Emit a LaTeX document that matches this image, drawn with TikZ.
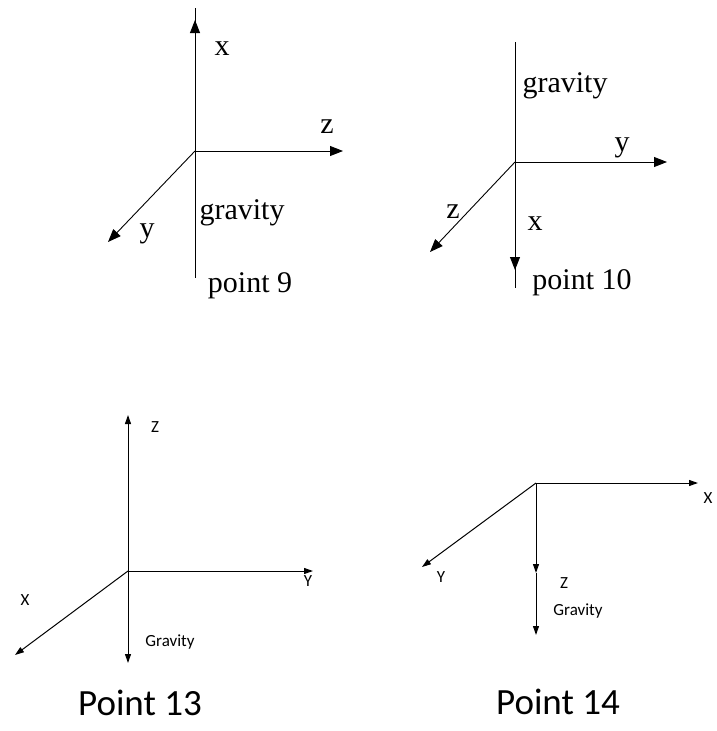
\documentclass[tikz,border=0pt]{standalone}
\usepackage{fontspec}
\newfontfamily\tnr{Liberation Serif}
\newfontfamily\cbr{Carlito}
\usetikzlibrary{arrows.meta}
\begin{document}
\begin{tikzpicture}[x=1pt,y=-1pt,
  axA/.style={line width=0.9pt,-{Triangle[length=13pt,width=10pt]}},
  lnA/.style={line width=0.9pt},
  axB/.style={line width=1pt,-{Triangle[length=9pt,width=6pt]}},
  axBB/.style={line width=1pt,{Triangle[length=9pt,width=6pt]}-{Triangle[length=9pt,width=6pt]}},
  serif/.style={inner sep=0pt,font=\tnr\fontsize{30}{30}\selectfont},
  small/.style={inner sep=0pt,font=\cbr\fontsize{17}{17}\selectfont},
  big/.style={inner sep=0pt,font=\cbr\fontsize{37}{37}\selectfont}]
\useasboundingbox (0,0) rectangle (717,731);
% ---- point 9 ----
\coordinate (o9) at (195,151);
\coordinate (x9end) at (195,8);
\coordinate (x9tip) at (195,20);
\coordinate (g9end) at (195,278);
\coordinate (z9tip) at (343,151);
\coordinate (y9tip) at (108,242);
\draw[lnA] (o9) -- (x9end);
\draw[axA] (o9) -- (x9tip);
\draw[lnA] (o9) -- (g9end);
\draw[axA] (o9) -- (z9tip);
\draw[axA] (o9) -- (y9tip);
\node[serif] (lx9) at (222,49) {x};
\node[serif] (lz9) at (327,127) {z};
\node[serif] (lg9) at (242,213) {gravity};
\node[serif] (ly9) at (147,234) {y};
\node[serif] (lp9) at (250,286) {point 9};
% ---- point 10 ----
\coordinate (o10) at (515,162);
\coordinate (g10end) at (515,42);
\coordinate (x10end) at (515,288);
\coordinate (x10tip) at (515,270);
\coordinate (y10tip) at (667,162);
\coordinate (z10tip) at (430,252);
\draw[lnA] (o10) -- (g10end);
\draw[lnA] (o10) -- (x10end);
\draw[axA] (o10) -- (x10tip);
\draw[axA] (o10) -- (y10tip);
\draw[axA] (o10) -- (z10tip);
\node[serif] (lg10) at (565,86) {gravity};
\node[serif] (ly10) at (622,148) {y};
\node[serif] (lz10) at (453,212) {z};
\node[serif] (lx10) at (535,224) {x};
\node[serif] (lp10) at (582,283) {point 10};
% ---- point 13 ----
\coordinate (o13) at (128,571);
\coordinate (z13tip) at (128,415);
\coordinate (g13tip) at (128,663);
\coordinate (y13tip) at (313,571);
\coordinate (x13tip) at (15,655);
\draw[axBB] (z13tip) -- (g13tip);
\draw[axB] (o13) -- (y13tip);
\draw[axB] (o13) -- (x13tip);
\node[small] (lz13) at (155,427) {Z};
\node[small] (ly13) at (308,581) {Y};
\node[small] (lx13) at (25,600) {X};
\node[small] (lg13) at (170,642) {Gravity};
\node[big] (lp13) at (140,703) {Point 13};
% ---- point 14 ----
\coordinate (o14) at (536,483);
\coordinate (z14tip) at (536,573);
\coordinate (g14tip) at (536,635);
\coordinate (x14tip) at (698,483);
\coordinate (y14tip) at (422,567);
\draw[axB] (o14) -- (z14tip);
\draw[axB] (z14tip) -- (g14tip);
\draw[axB] (o14) -- (x14tip);
\draw[axB] (o14) -- (y14tip);
\node[small] (lx14) at (708,498) {X};
\node[small] (ly14) at (441,577) {Y};
\node[small] (lz14) at (564,583) {Z};
\node[small] (lg14) at (578,611) {Gravity};
\node[big] (lp14) at (558,702) {Point 14};
\end{tikzpicture}
\end{document}
